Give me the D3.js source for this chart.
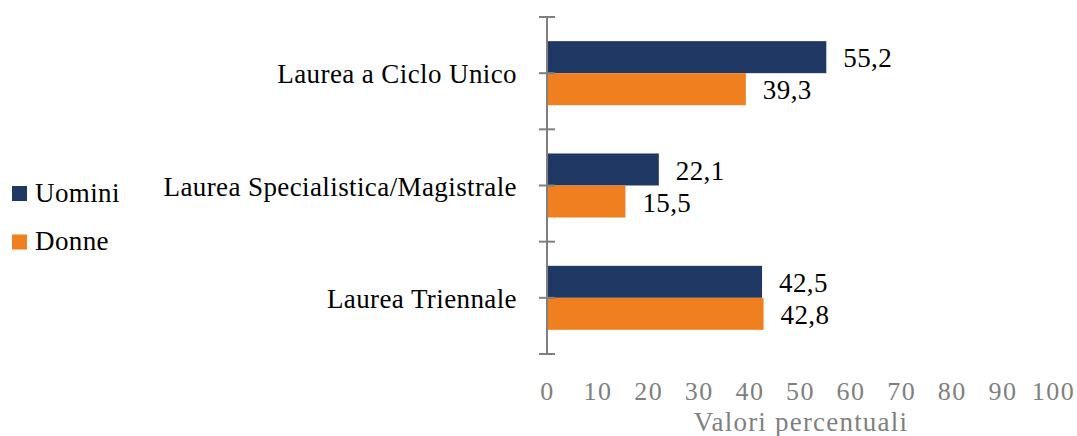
<!DOCTYPE html>
<html><head><meta charset="utf-8">
<script src="https://cdn.jsdelivr.net/npm/d3@7"></script>
<style>body{margin:0;background:#fff}svg{display:block}</style>
</head><body><svg id="c" width="1077" height="436"></svg>
<script>
const categories = ["Laurea a Ciclo Unico", "Laurea Specialistica/Magistrale", "Laurea Triennale"];
const seriesNames = ["Uomini", "Donne"];
const uomini = [55.2, 22.1, 42.5];
const donne = [39.3, 15.5, 42.8];
const xTicks = [0,10,20,30,40,50,60,70,80,90,100];
const colors = ["#203864", "#f0801f"];
const fmt = v => String(v.toFixed(1)).replace(".", ",");

const svg = d3.select("#c");
const font = "Liberation Serif";
const fs = 27;
const x = d3.scaleLinear().domain([0,100]).range([547,1053]);
const y = d3.scaleBand().domain(categories).range([17,354]).paddingInner(0.43).paddingOuter(0.215);
const yb = d3.scaleBand().domain(seriesNames).range([0, y.bandwidth()]);
const yFull = d3.scaleBand().domain(categories).range([17,354]);

const vals = [uomini, donne];
seriesNames.forEach((s, si) => {
  svg.append("g").selectAll("rect").data(categories).join("rect")
    .attr("x", x(0)).attr("y", c => y(c) + yb(s))
    .attr("width", (c,i) => x(vals[si][i]) - x(0))
    .attr("height", yb.bandwidth())
    .attr("fill", colors[si]);
  svg.append("g").selectAll("text").data(categories).join("text")
    .attr("x", (c,i) => x(vals[si][i]) + 17)
    .attr("y", c => y(c) + yb(s) + yb.bandwidth()/2)
    .attr("dy", "0.38em")
    .attr("font-family", font).attr("font-size", fs).attr("letter-spacing", 0.4).attr("fill", "#000")
    .text((c,i) => fmt(vals[si][i]));
});

// vertical axis
const ax = svg.append("g");
ax.append("line").attr("x1", x(0)).attr("x2", x(0)).attr("y1", 17).attr("y2", 354)
  .attr("stroke", "#7f7f7f").attr("stroke-width", 2);
const tickYs = [];
categories.forEach(c => { tickYs.push(yFull(c)); tickYs.push(yFull(c) + yFull.bandwidth()/2); });
tickYs.push(354);
ax.selectAll("line.t").data(tickYs).join("line").attr("class","t")
  .attr("x1", x(0) - 8).attr("x2", x(0) + 8).attr("y1", d => d).attr("y2", d => d)
  .attr("stroke", "#7f7f7f").attr("stroke-width", 2);
ax.selectAll("text").data(categories).join("text")
  .attr("x", 517).attr("y", c => yFull(c) + yFull.bandwidth()/2).attr("dy", "0.38em")
  .attr("text-anchor", "end").attr("font-family", font).attr("font-size", fs).attr("letter-spacing", 0.4).attr("fill", "#000")
  .text(c => c);

// x axis labels
const xa = svg.append("g").attr("transform", "translate(0,400)")
  .call(d3.axisBottom(x).tickValues(xTicks).tickSize(0).tickPadding(0));
xa.select(".domain").remove();
xa.selectAll("text").attr("font-family", font).attr("font-size", 26).attr("letter-spacing", 1.5)
  .attr("fill", "#7f7f7f").attr("dy", "0");
svg.append("text").attr("x", 801).attr("y", 431).attr("text-anchor", "middle")
  .attr("font-family", font).attr("font-size", fs).attr("letter-spacing", 1.2).attr("fill", "#7f7f7f").text("Valori percentuali");

// legend
const lg = svg.append("g");
seriesNames.forEach((s, i) => {
  lg.append("rect").attr("x", 12).attr("y", 186 + i*48.5).attr("width", 15).attr("height", 15).attr("fill", colors[i]);
  lg.append("text").attr("x", 35).attr("y", 201.5 + i*48.5)
    .attr("font-family", font).attr("font-size", fs).attr("letter-spacing", 0.4).attr("fill", "#000").text(s);
});
</script></body></html>
